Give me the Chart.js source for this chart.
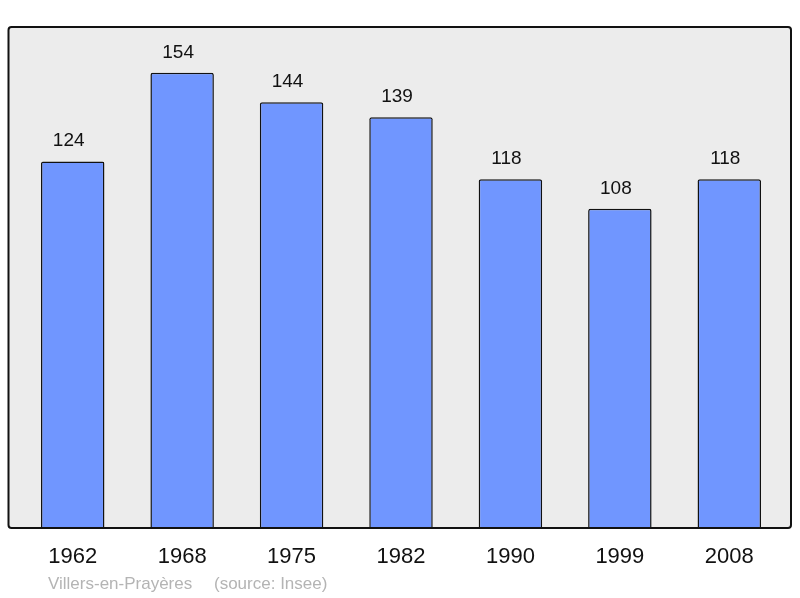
<!DOCTYPE html>
<html lang="fr">
<head>
    <meta charset="UTF-8">
    <title>Villers-en-Prayères - population</title>
    <script src="https://cdn.jsdelivr.net/npm/chart.js"></script>
    <style>
        html, body { margin: 0; padding: 0; background: white; }
        #box { width: 800px; height: 598px; }
    </style>
</head>
<body>
    <div id="box"><canvas id="grafico"></canvas></div>

    <script>
        const annees = ['1962', '1968', '1975', '1982', '1990', '1999', '2008'];
        const population = [124, 154, 144, 139, 118, 108, 118];
        const titre = 'Villers-en-Prayères';
        const source = '(source: Insee)';

        const font = '"Liberation Sans", Arial, sans-serif';

        // cadre gris + libellés dessinés autour de la zone du graphique
        const decor = {
            id: 'decor',
            beforeDatasetsDraw(chart) {
                const c = chart.ctx, a = chart.chartArea;
                const x0 = a.left - 9.5, x1 = a.right + 7, y0 = a.top, y1 = a.bottom;
                c.save();
                c.beginPath();
                c.roundRect(x0, y0, x1 - x0, y1 - y0, 3);
                c.fillStyle = '#ececec';
                c.fill();
                c.restore();
            },
            afterDatasetsDraw(chart) {
                const c = chart.ctx, a = chart.chartArea;
                const x0 = a.left - 9.5, x1 = a.right + 7, y0 = a.top, y1 = a.bottom;
                c.save();
                c.beginPath();
                c.roundRect(x0, y0, x1 - x0, y1 - y0, 3);
                c.lineWidth = 2;
                c.strokeStyle = '#111';
                c.stroke();

                const meta = chart.getDatasetMeta(0);
                c.textAlign = 'center';
                c.fillStyle = '#111';
                c.font = '19px ' + font;
                c.textBaseline = 'alphabetic';
                meta.data.forEach((bar, i) => {
                    c.fillText(String(population[i]), bar.x - 4, bar.y - 15);
                });
                c.font = '22px ' + font;
                c.textBaseline = 'middle';
                meta.data.forEach((bar, i) => {
                    c.fillText(annees[i], bar.x, y1 + 29);
                });
                c.font = '17px ' + font;
                c.fillStyle = '#b4b4b4';
                c.textAlign = 'left';
                c.fillText(titre, 48, y1 + 56);
                c.fillText(source, 214, y1 + 56);
                c.restore();
            }
        };

        new Chart(document.getElementById('grafico'), {
            type: 'bar',
            data: {
                labels: annees,
                datasets: [{
                    data: population,
                    backgroundColor: '#7096ff',
                    borderColor: '#111',
                    borderWidth: 1.5,
                    borderSkipped: 'bottom',
                    borderRadius: { topLeft: 2, topRight: 2 },
                    barPercentage: 0.58,
                    categoryPercentage: 1
                }]
            },
            options: {
                responsive: true,
                maintainAspectRatio: false,
                animation: false,
                layout: { padding: { left: 18, right: 16, top: 27, bottom: 70 } },
                plugins: { legend: { display: false }, tooltip: { enabled: false } },
                scales: {
                    x: { display: false },
                    y: { display: false, min: 0, max: 169.5 }
                }
            },
            plugins: [decor]
        });
    </script>
</body>
</html>
